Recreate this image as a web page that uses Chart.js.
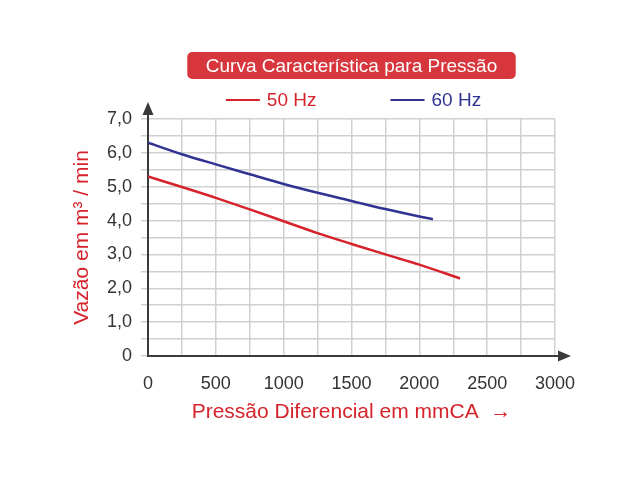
<!DOCTYPE html>
<html>
<head>
<meta charset="utf-8">
<script src="https://cdn.jsdelivr.net/npm/chart.js@4.4.1/dist/chart.umd.min.js"></script>
<style>
  html, body { margin: 0; padding: 0; background: #fff; }
  #wrap { width: 640px; height: 480px; }
</style>
</head>
<body>
<div id="wrap"><canvas id="chart" width="640" height="480"></canvas></div>
<script>
// Data
const CHART_TITLE = 'Curva Característica para Pressão';
const X_TITLE     = 'Pressão Diferencial em mmCA  →';
const Y_TITLE     = 'Vazão em m³ / min';
const SERIES_LABELS = ['50 Hz', '60 Hz'];

const pressure50 = [0, 250, 500, 750, 1000, 1250, 1500, 1750, 2000, 2300];
const flow50     = [5.30, 4.99, 4.67, 4.33, 3.98, 3.63, 3.31, 3.00, 2.70, 2.29];
const pressure60 = [0, 250, 500, 750, 1000, 1250, 1500, 1750, 2000, 2100];
const flow60     = [6.30, 5.96, 5.66, 5.37, 5.08, 4.82, 4.58, 4.34, 4.12, 4.04];

const X_MIN = 0, X_MAX = 3000, X_STEP = 250, X_LABEL_STEP = 500;
const Y_MIN = 0, Y_MAX = 7,    Y_STEP = 0.5, Y_LABEL_STEP = 1;

const RED       = '#d6232b';
const BLUE      = '#303392';
const BOX_RED   = '#d7363d';
const GRID      = '#d0d0d0';
const AXIS      = '#3a3a3a';
const TICK_TEXT = '#333333';
const FONT      = "Arial, 'Liberation Sans', sans-serif";

const toPoints = (xs, ys) => xs.map((x, i) => ({ x, y: ys[i] }));

// Title box, custom legend and axis arrows
const decorPlugin = {
    id: 'decor',
    afterDraw(chart) {
        const { ctx, chartArea: area } = chart;
        const cx = (area.left + area.right) / 2;
        ctx.save();

        // title in a red rounded box
        ctx.font = `19px ${FONT}`;
        const tw = ctx.measureText(CHART_TITLE).width;
        const bw = tw + 37, bh = 27, by = area.top - 67;
        ctx.fillStyle = BOX_RED;
        ctx.beginPath();
        ctx.roundRect(cx - bw / 2, by, bw, bh, 5);
        ctx.fill();
        ctx.fillStyle = '#fff';
        ctx.textAlign = 'center';
        ctx.textBaseline = 'middle';
        ctx.fillText(CHART_TITLE, cx, by + bh / 2 + 1);

        // legend: short line + coloured label
        const lineLen = 34, gap = 7, itemGap = 74, ly = area.top - 19;
        const items = chart.data.datasets.map(ds => ({
            text: ds.label, color: ds.borderColor,
            w: lineLen + gap + ctx.measureText(ds.label).width,
        }));
        const total = items.reduce((s, it) => s + it.w, 0) + itemGap * (items.length - 1);
        let x = cx + 2 - total / 2;
        ctx.textAlign = 'left';
        items.forEach(it => {
            ctx.strokeStyle = it.color;
            ctx.lineWidth = 2;
            ctx.beginPath();
            ctx.moveTo(x, ly);
            ctx.lineTo(x + lineLen, ly);
            ctx.stroke();
            ctx.fillStyle = it.color;
            ctx.fillText(it.text, x + lineLen + gap, ly + 1);
            x += it.w + itemGap;
        });

        // axis arrows
        ctx.strokeStyle = AXIS;
        ctx.fillStyle = AXIS;
        ctx.lineWidth = 2;
        ctx.beginPath();
        ctx.moveTo(area.left, area.top);
        ctx.lineTo(area.left, area.top - 8);
        ctx.moveTo(area.right, area.bottom);
        ctx.lineTo(area.right + 8, area.bottom);
        ctx.stroke();
        ctx.beginPath();
        ctx.moveTo(area.left, area.top - 17);
        ctx.lineTo(area.left - 5.5, area.top - 4);
        ctx.lineTo(area.left + 5.5, area.top - 4);
        ctx.closePath();
        ctx.fill();
        ctx.beginPath();
        ctx.moveTo(area.right + 16, area.bottom);
        ctx.lineTo(area.right + 3, area.bottom - 5.5);
        ctx.lineTo(area.right + 3, area.bottom + 5.5);
        ctx.closePath();
        ctx.fill();
        ctx.restore();
    },
};

new Chart(document.getElementById('chart').getContext('2d'), {
    type: 'line',
    data: {
        datasets: [
            {
                label: SERIES_LABELS[0],
                data: toPoints(pressure50, flow50),
                borderColor: RED,
                borderWidth: 2.5,
                pointRadius: 0,
                cubicInterpolationMode: 'monotone',
            },
            {
                label: SERIES_LABELS[1],
                data: toPoints(pressure60, flow60),
                borderColor: BLUE,
                borderWidth: 2.5,
                pointRadius: 0,
                cubicInterpolationMode: 'monotone',
            },
        ],
    },
    options: {
        responsive: false,
        animation: false,
        devicePixelRatio: 1,
        layout: { padding: { left: 60, right: 85, top: 119, bottom: 55 } },
        plugins: {
            legend:  { display: false },
            title:   { display: false },
            tooltip: { enabled: false },
        },
        scales: {
            x: {
                type: 'linear',
                min: X_MIN,
                max: X_MAX,
                afterFit: scale => { scale.height = 69; },
                grid:   { color: GRID, lineWidth: 1.5, drawTicks: false },
                border: { display: true, color: AXIS, width: 2 },
                ticks: {
                    stepSize: X_STEP,
                    autoSkip: false,
                    maxRotation: 0,
                    padding: 17,
                    color: TICK_TEXT,
                    font: { family: FONT, size: 18 },
                    callback: v => (v % X_LABEL_STEP === 0 ? String(v) : ''),
                },
                title: {
                    display: true,
                    text: X_TITLE,
                    color: RED,
                    font: { family: FONT, size: 21 },
                    padding: { top: 0, bottom: 0 },
                },
            },
            y: {
                min: Y_MIN,
                max: Y_MAX,
                afterFit: scale => { scale.width = 88; },
                grid:   { color: GRID, lineWidth: 1.5, drawTicks: true, tickLength: 7 },
                border: { display: true, color: AXIS, width: 2 },
                ticks: {
                    stepSize: Y_STEP,
                    autoSkip: false,
                    padding: 9,
                    color: TICK_TEXT,
                    font: { family: FONT, size: 18 },
                    callback: v => {
                        if (v % Y_LABEL_STEP !== 0) return '';
                        return v === 0 ? '0' : v.toFixed(1).replace('.', ',');
                    },
                },
                title: {
                    display: true,
                    text: Y_TITLE,
                    color: RED,
                    font: { family: FONT, size: 21 },
                    padding: { top: 10, bottom: 0 },
                },
            },
        },
    },
    plugins: [decorPlugin],
});
</script>
</body>
</html>
